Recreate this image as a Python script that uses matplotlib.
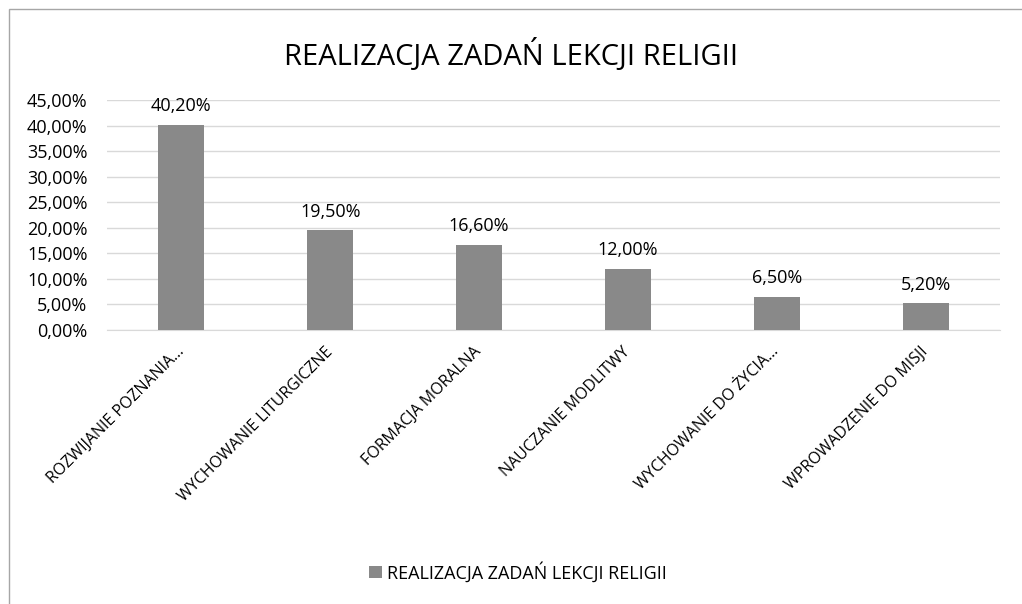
import matplotlib.pyplot as plt
from matplotlib.patches import Rectangle
from matplotlib.ticker import FuncFormatter

plt.rcParams['font.family'] = ['Open Sans', 'DejaVu Sans']

categories = ["ROZWIJANIE POZNANIA...", "WYCHOWANIE LITURGICZNE", "FORMACJA MORALNA",
              "NAUCZANIE MODLITWY", "WYCHOWANIE DO ŻYCIA...", "WPROWADZENIE DO MISJI"]
values = [40.2, 19.5, 16.6, 12.0, 6.5, 5.2]
series_name = "REALIZACJA ZADAŃ LEKCJI RELIGII"

W, H = 1022, 604
fig = plt.figure(figsize=(W / 100, H / 100), dpi=100)
ax = fig.add_axes([107 / W, 1 - 330 / H, (1000 - 107) / W, 230 / H])

bar_color = "#898989"
x = range(len(categories))
bars = ax.bar(x, values, width=0.31, color=bar_color, label=series_name, zorder=3)
ax.set_xlim(-0.5, len(categories) - 0.5)
ax.set_ylim(0, 45)
ax.set_yticks(range(0, 46, 5))
ax.yaxis.set_major_formatter(FuncFormatter(lambda v, p: f"{v:.2f}%".replace(".", ",")))
ax.grid(axis="y", color="#d9d9d9", linewidth=1, zorder=0)
for s in ["top", "right", "left"]:
    ax.spines[s].set_visible(False)
ax.spines["bottom"].set_color("#d9d9d9")
ax.tick_params(axis="both", length=0, labelsize=13, colors="#000000")
ax.tick_params(axis="y", pad=14)
ax.set_xticks(list(x))
ax.set_xticklabels(categories, rotation=45, ha="right", va="center",
                   rotation_mode="anchor", fontsize=11.5)
ax.tick_params(axis="x", pad=14)

for b, v in zip(bars, values):
    ax.annotate(f"{v:.2f}%".replace(".", ","), (b.get_x() + b.get_width() / 2, v),
                xytext=(0, 7), textcoords="offset points", ha="center", va="bottom", fontsize=13)

fig.text(0.5, 1 - 55 / H, series_name, ha="center", va="center", fontsize=21)

leg = fig.legend(loc="center", bbox_to_anchor=(518 / W, 1 - 572 / H), frameon=False, fontsize=13,
                 handlelength=0.7, handleheight=0.7, handletextpad=0.3)

# chart area border
fig.patches.append(Rectangle((9 / W, -0.1), 1.2, 1 - 9 / H + 0.1, transform=fig.transFigure,
                             fill=False, edgecolor="#a6a6a6", linewidth=1))

fig.savefig("out.png", dpi=100)
